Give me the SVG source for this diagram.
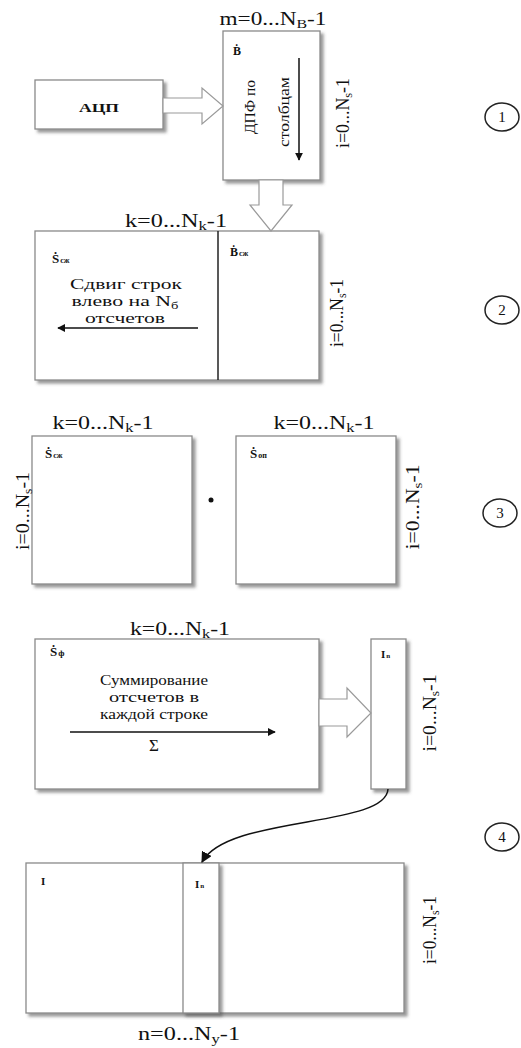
<svg xmlns="http://www.w3.org/2000/svg" width="521" height="1048" viewBox="0 0 521 1048" font-family="'Liberation Serif', 'Times New Roman', 'DejaVu Serif', serif">
<style>
text{font-family:"Liberation Serif","Times New Roman","DejaVu Serif",serif;fill:#111}
.lbl{font-size:19px}
.body{font-size:15px}
.b{font-weight:bold}
.box{fill:#fff;stroke:#8a8a8a;stroke-width:1.3}
.hol{fill:#fff;stroke:#9a9a9a;stroke-width:1.2}
.ln{stroke:#111;stroke-width:1.5;fill:none}
.num{fill:none;stroke:#222;stroke-width:1.5}
</style>
<defs>
<filter id="sh" x="-10%" y="-10%" width="130%" height="130%">
<feDropShadow dx="3" dy="3" stdDeviation="1.5" flood-color="#555" flood-opacity="0.6"/>
</filter>
<marker id="ah" viewBox="0 0 10 10" refX="9" refY="5" markerWidth="8" markerHeight="8" markerUnits="userSpaceOnUse" orient="auto">
<path d="M0,0 L10,5 L0,10 Z" fill="#111"/>
</marker>
<marker id="ah2" viewBox="0 0 10 10" refX="9" refY="5" markerWidth="11" markerHeight="11" markerUnits="userSpaceOnUse" orient="auto">
<path d="M0,0 L10,5 L0,10 Z" fill="#111"/>
</marker>
</defs>

<!-- Section 1 -->
<g id="adc">
<rect class="box" x="35" y="80" width="128" height="49" filter="url(#sh)"/>
<text class="b" x="99" y="112" font-size="12" text-anchor="middle" textLength="40" lengthAdjust="spacingAndGlyphs">АЦП</text>
</g>
<g id="B">
<rect class="box" x="223" y="31" width="97" height="149" filter="url(#sh)"/>
<text class="b" x="233" y="55" font-size="12">Ḃ</text>
<text class="body" transform="translate(255,107) rotate(-90)" text-anchor="middle" font-size="16" textLength="54" lengthAdjust="spacingAndGlyphs">ДПФ по</text>
<text class="body" transform="translate(289,112) rotate(-90)" text-anchor="middle" font-size="16" textLength="70" lengthAdjust="spacingAndGlyphs">столбцам</text>
<text class="lbl" x="273" y="25" text-anchor="middle" textLength="107" lengthAdjust="spacingAndGlyphs">m=0...N<tspan font-size="13" dy="3">B</tspan><tspan dy="-3">-1</tspan></text>
<text class="lbl" transform="translate(349,113) rotate(-90)" text-anchor="middle" textLength="70" lengthAdjust="spacingAndGlyphs">i=0...N<tspan font-size="13" dy="3">s</tspan><tspan dy="-3">-1</tspan></text>
</g>
<g id="step1">
<ellipse class="num" cx="502" cy="117" rx="17" ry="14"/>
<text x="502" y="122" font-size="15" text-anchor="middle">1</text>
</g>

<!-- Section 2 -->
<g id="Scompressed">
<rect class="box" x="35" y="231" width="284" height="149" filter="url(#sh)"/>
<line x1="218" y1="231" x2="218" y2="380" stroke="#222" stroke-width="1.5"/>
<text class="b" x="52" y="263" font-size="13">Ṡ<tspan font-size="8" dx="1">сж</tspan></text>
<text class="b" x="230" y="256" font-size="12">Ḃ<tspan font-size="8" dx="1">сж</tspan></text>
<text class="body" x="126" y="289" text-anchor="middle" textLength="112" lengthAdjust="spacingAndGlyphs">Сдвиг строк</text>
<text class="body" x="125" y="306" text-anchor="middle" textLength="107" lengthAdjust="spacingAndGlyphs">влево на N<tspan font-size="10" dy="3">б</tspan></text>
<text class="body" x="125" y="323" text-anchor="middle" textLength="80" lengthAdjust="spacingAndGlyphs">отсчетов</text>
<text class="lbl" x="176" y="227" text-anchor="middle" textLength="102" lengthAdjust="spacingAndGlyphs">k=0...N<tspan font-size="13" dy="3">k</tspan><tspan dy="-3">-1</tspan></text>
<text class="lbl" transform="translate(343,313) rotate(-90)" text-anchor="middle" textLength="68" lengthAdjust="spacingAndGlyphs">i=0...N<tspan font-size="13" dy="3">s</tspan><tspan dy="-3">-1</tspan></text>
</g>
<g id="step2">
<ellipse class="num" cx="502" cy="310" rx="17" ry="14"/>
<text x="502" y="315" font-size="15" text-anchor="middle">2</text>
</g>

<!-- Section 3 -->
<g id="Ssz">
<rect class="box" x="32" y="436" width="160" height="148" filter="url(#sh)"/>
<text class="b" x="45" y="458" font-size="13">Ṡ<tspan font-size="8" dx="1">сж</tspan></text>
<text class="lbl" x="103" y="429" text-anchor="middle" textLength="101" lengthAdjust="spacingAndGlyphs">k=0...N<tspan font-size="13" dy="3">k</tspan><tspan dy="-3">-1</tspan></text>
<text class="lbl" transform="translate(29,511) rotate(-90)" text-anchor="middle" textLength="78" lengthAdjust="spacingAndGlyphs">i=0...N<tspan font-size="13" dy="3">s</tspan><tspan dy="-3">-1</tspan></text>
</g>
<g id="Sop">
<rect class="box" x="236" y="436" width="160" height="148" filter="url(#sh)"/>
<text class="b" x="250" y="458" font-size="13">Ṡ<tspan font-size="8" dx="1">оп</tspan></text>
<text class="lbl" x="324" y="429" text-anchor="middle" textLength="101" lengthAdjust="spacingAndGlyphs">k=0...N<tspan font-size="13" dy="3">k</tspan><tspan dy="-3">-1</tspan></text>
<text class="lbl" transform="translate(419,507) rotate(-90)" text-anchor="middle" textLength="85" lengthAdjust="spacingAndGlyphs">i=0...N<tspan font-size="13" dy="3">s</tspan><tspan dy="-3">-1</tspan></text>
</g>
<g id="mult">
<circle cx="211" cy="500" r="2.5" fill="#111"/>
</g>
<g id="step3">
<ellipse class="num" cx="500" cy="513" rx="17" ry="14"/>
<text x="500" y="518" font-size="15" text-anchor="middle">3</text>
</g>

<!-- Section 4 -->
<g id="Sf">
<rect class="box" x="35" y="639" width="284" height="150" filter="url(#sh)"/>
<text class="b" x="50" y="656" font-size="13">Ṡ<tspan font-size="9" dx="1">ф</tspan></text>
<text class="body" x="154" y="685" text-anchor="middle" textLength="108" lengthAdjust="spacingAndGlyphs">Суммирование</text>
<text class="body" x="154" y="702" text-anchor="middle" textLength="90" lengthAdjust="spacingAndGlyphs">отсчетов в</text>
<text class="body" x="154" y="719" text-anchor="middle" textLength="108" lengthAdjust="spacingAndGlyphs">каждой строке</text>
<text x="154" y="751" font-size="17" text-anchor="middle">Σ</text>
<text class="lbl" x="180" y="635" text-anchor="middle" textLength="100" lengthAdjust="spacingAndGlyphs">k=0...N<tspan font-size="13" dy="3">k</tspan><tspan dy="-3">-1</tspan></text>
</g>
<g id="In">
<rect class="box" x="371" y="639" width="35" height="150" filter="url(#sh)"/>
<text class="b" x="381" y="658" font-size="11">I<tspan font-size="7" dx="1">n</tspan></text>
<text class="lbl" transform="translate(436,713) rotate(-90)" text-anchor="middle" textLength="77" lengthAdjust="spacingAndGlyphs">i=0...N<tspan font-size="13" dy="3">s</tspan><tspan dy="-3">-1</tspan></text>
</g>
<g id="I">
<rect class="box" x="26" y="863" width="378" height="150" filter="url(#sh)"/>
<rect class="box" x="183" y="863" width="36" height="150" filter="url(#sh)"/>
<text class="b" x="41" y="885" font-size="11">I</text>
<text class="b" x="195" y="888" font-size="11">I<tspan font-size="7" dx="1">n</tspan></text>
<text class="lbl" transform="translate(436,930) rotate(-90)" text-anchor="middle" textLength="68" lengthAdjust="spacingAndGlyphs">i=0...N<tspan font-size="13" dy="3">s</tspan><tspan dy="-3">-1</tspan></text>
<text class="lbl" x="189" y="1040" text-anchor="middle" textLength="102" lengthAdjust="spacingAndGlyphs">n=0...N<tspan font-size="13" dy="3">y</tspan><tspan dy="-3">-1</tspan></text>
</g>
<g id="step4">
<ellipse class="num" cx="502" cy="837" rx="17" ry="14"/>
<text x="502" y="842" font-size="15" text-anchor="middle">4</text>
</g>

<g id="connectors">
<polygon class="hol" points="163,98 202,98 202,88 223,106 202,124 202,113 163,113"/>
<polygon class="hol" points="259,180 259,205 250,205 271,231 292,205 283,205 283,180"/>
<polygon class="hol" points="319,699 347,699 347,688 371,713 347,737 347,726 319,726"/>
<line class="ln" x1="299" y1="58" x2="299" y2="160" marker-end="url(#ah)"/>
<line class="ln" x1="198" y1="328" x2="58" y2="328" marker-end="url(#ah)"/>
<line class="ln" x1="70" y1="732" x2="275" y2="732" marker-end="url(#ah)"/>
<path class="ln" d="M388,789 C386,828 228,815 202,862" marker-end="url(#ah2)"/>
</g>
</svg>
